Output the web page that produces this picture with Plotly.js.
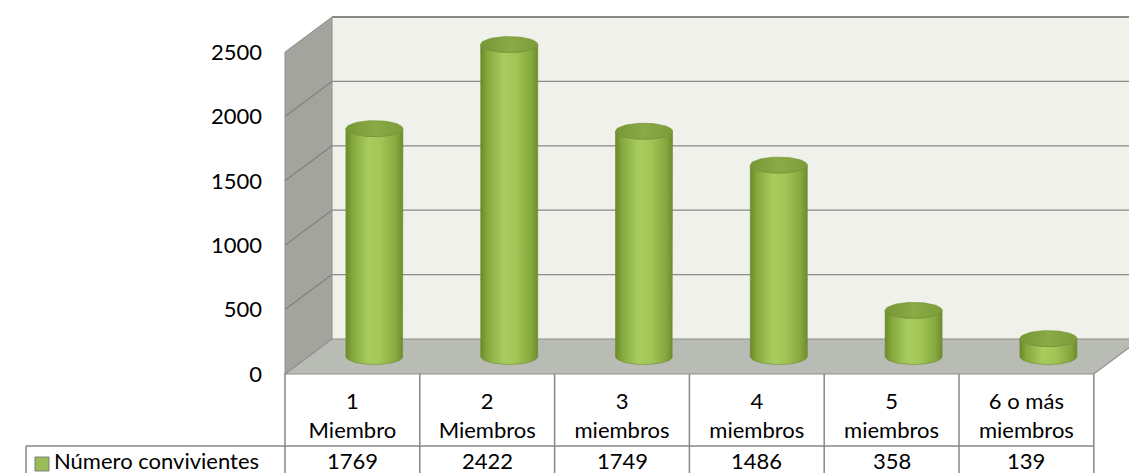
<!DOCTYPE html>
<html>
<head>
<meta charset="utf-8">
<script src="https://cdn.plot.ly/plotly-3.0.1.min.js"></script>
<style>html,body{margin:0;padding:0;background:#fff;}#chart{width:1129px;height:473px;}</style>
</head>
<body>
<div id="chart"></div>
<script>
// ---- data ----
const catTop = ['1', '2', '3', '4', '5', '6 o más'];
const catBottom = ['Miembro', 'Miembros', 'miembros', 'miembros', 'miembros', 'miembros'];
const values = [1769, 2422, 1749, 1486, 358, 139];
const seriesName = 'Número convivientes';
const yTicks = [0, 500, 1000, 1500, 2000, 2500];
const yTickText = ['0', '500', '1000', '1500', '2000', '2500'];

// ---- geometry (pixel layout of the pseudo-3D frame) ----
const W = 1129, H = 473;
const X0PX = 285, COLW = 134.8;   // left edge of first column, column width
const Y0PX = 374, K = 0.1288;     // pixel row of value 0 on front plane, px per unit
const u = px => (px - X0PX) / COLW - 0.5;
const v = py => (Y0PX - py) / K;
const DX = 47 / COLW, DY = 35 / K;          // full depth offset
const CDX = 22 / COLW, CDY = 17.5 / K;      // cylinder (mid-depth) offset
const RX = 28.5 / COLW, RY = 8 / K;         // cylinder radii
const YMAX = yTicks[yTicks.length - 1];
const N = catTop.length;
const L = -0.5, R = N - 0.5;

const font = 'Lato, "Open Sans", sans-serif';
const traces = [];
values.forEach((val, i) => {
  const cx = i + CDX, base = CDY, top = val + CDY;
  const xs = [], ys = [];
  xs.push(cx - RX); ys.push(base);
  xs.push(cx - RX); ys.push(top);
  for (let k = 0; k <= 40; k++) {
    const t = Math.PI + Math.PI * k / 40;
    xs.push(cx + RX * Math.cos(t)); ys.push(top + RY * Math.sin(t));
  }
  xs.push(cx + RX); ys.push(base);
  for (let k = 0; k <= 40; k++) {
    const t = 2 * Math.PI - Math.PI * k / 40;
    xs.push(cx + RX * Math.cos(t)); ys.push(base + RY * Math.sin(t));
  }
  traces.push({
    type: 'scatter', mode: 'lines', x: xs, y: ys, fill: 'toself',
    line: {width: 0.6, color: '#6c8a2c'},
    fillcolor: '#9bbb59',
    fillgradient: {type: 'horizontal', colorscale: [[0, '#6a8a2a'], [0.12, '#86a93e'], [0.4, '#a9cc5f'], [0.62, '#a2c556'], [0.88, '#86a83e'], [1, '#6d8d2d']]},
    hoverinfo: 'skip', showlegend: false
  });
  const ex = [], ey = [];
  for (let k = 0; k <= 60; k++) {
    const t = 2 * Math.PI * k / 60;
    ex.push(cx + RX * Math.cos(t)); ey.push(top + RY * Math.sin(t));
  }
  traces.push({
    type: 'scatter', mode: 'lines', x: ex, y: ey, fill: 'toself',
    line: {width: 0.6, color: '#6f8f2f'},
    fillcolor: '#86a543',
    fillgradient: {type: 'horizontal', colorscale: [[0, '#779734'], [0.5, '#8aaa46'], [1, '#7d9d3a']]},
    hoverinfo: 'skip', showlegend: false
  });
});

const shapes = [];
// back wall
shapes.push({type: 'path', xref: 'x', yref: 'y', layer: 'below',
  path: `M${L + DX},${DY} L${R + DX},${DY} L${R + DX},${YMAX + DY} L${L + DX},${YMAX + DY} Z`,
  fillcolor: '#eff1ea', line: {width: 0}});
// side wall
shapes.push({type: 'path', xref: 'x', yref: 'y', layer: 'below',
  path: `M${L},0 L${L},${YMAX} L${L + DX},${YMAX + DY} L${L + DX},${DY} Z`,
  fillcolor: '#a2a49d', line: {width: 1, color: '#8e908a'}});
// gridlines
yTicks.forEach(t => {
  if (t > 0 && t < YMAX) {
    shapes.push({type: 'line', xref: 'x', yref: 'y', layer: 'below', x0: L + DX, x1: R + DX, y0: t + DY, y1: t + DY, line: {width: 1.2, color: '#8a8a8a'}});
    shapes.push({type: 'line', xref: 'x', yref: 'y', layer: 'below', x0: L, x1: L + DX, y0: t, y1: t + DY, line: {width: 1.2, color: '#80827c'}});
  }
});
// back wall top edge
shapes.push({type: 'line', xref: 'x', yref: 'y', layer: 'below', x0: L + DX, x1: R + DX, y0: YMAX + DY, y1: YMAX + DY, line: {width: 2, color: '#8a8a8a'}});
// floor
shapes.push({type: 'path', xref: 'x', yref: 'y', layer: 'below',
  path: `M${L},0 L${R},0 L${R + DX},${DY} L${L + DX},${DY} Z`,
  fillcolor: '#b9bbb5', line: {width: 1.2, color: '#8e908a'}});
// table lines
const tableColor = '#878787';
for (let i = 0; i <= N; i++) {
  shapes.push({type: 'line', xref: 'x', yref: 'y', x0: i - 0.5, x1: i - 0.5, y0: 0, y1: v(H + 10), line: {width: 1.5, color: tableColor}});
}
shapes.push({type: 'line', xref: 'x', yref: 'y', x0: u(26), x1: R, y0: v(446), y1: v(446), line: {width: 1.5, color: tableColor}});
shapes.push({type: 'line', xref: 'x', yref: 'y', x0: u(26), x1: u(26), y0: v(446), y1: v(H + 10), line: {width: 1.5, color: tableColor}});
// legend key
shapes.push({type: 'rect', xref: 'x', yref: 'y', x0: u(35), x1: u(49), y0: v(457), y1: v(471), fillcolor: '#9bbb59', line: {width: 1, color: '#7f7f7f'}});

const annotations = [];
annotations.push({xref: 'x', yref: 'y', x: u(52), y: v(460), xanchor: 'left', yanchor: 'middle', text: seriesName, showarrow: false, font: {family: font, size: 22, color: '#000'}});
values.forEach((val, i) => {
  annotations.push({xref: 'x', yref: 'y', x: i, y: v(460), xanchor: 'center', yanchor: 'middle', text: String(val), showarrow: false, font: {family: font, size: 22, color: '#000'}});
});

const layout = {
  width: W, height: H,
  margin: {l: 0, r: 0, t: 0, b: 0, pad: 0},
  paper_bgcolor: '#fff', plot_bgcolor: 'rgba(0,0,0,0)',
  showlegend: false,
  xaxis: {range: [u(0), u(W)], anchor: 'free', position: (H - Y0PX) / H,
    tickvals: catTop.map((_, i) => i), ticktext: catTop.map((t, i) => t + '<br>' + catBottom[i]),
    showgrid: false, zeroline: false, showline: false, ticks: '', ticklabelstandoff: 12,
    tickfont: {family: font, size: 22, color: '#000'}, automargin: false, fixedrange: true},
  yaxis: {range: [v(H), v(0)], anchor: 'free', position: 283 / W,
    tickvals: yTicks, ticktext: yTickText,
    showgrid: false, zeroline: false, showline: false, ticks: '', ticklabelstandoff: 21,
    tickfont: {family: font, size: 22, color: '#000'}, automargin: false, fixedrange: true},
  shapes: shapes,
  annotations: annotations
};

Plotly.newPlot('chart', traces, layout, {displayModeBar: false, staticPlot: true});
</script>
</body>
</html>
